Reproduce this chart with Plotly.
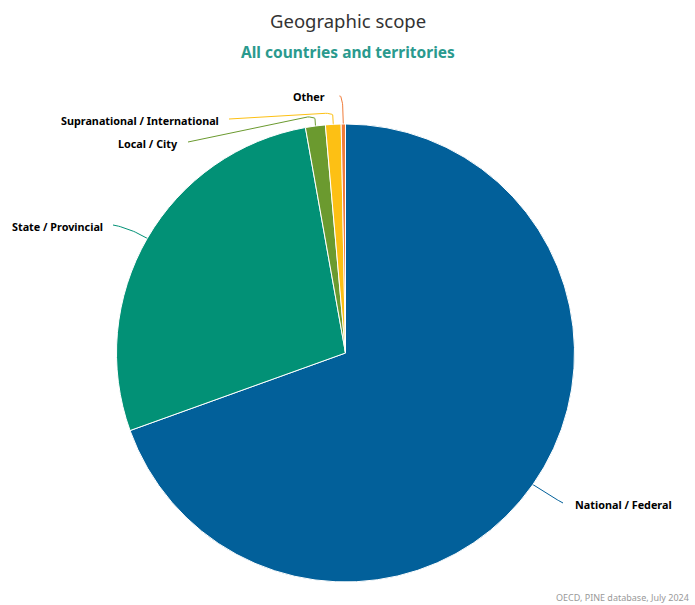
import numpy as np
import plotly.graph_objects as go

# ---- data ----
categories = ["National / Federal", "State / Provincial", "Local / City",
              "Supranational / International", "Other"]
shares = [69.5, 27.7, 1.4, 1.1, 0.3]
colors = ["#02609a", "#029176", "#6b9a2f", "#fdc014", "#f07c3a"]

W, H = 695, 605
CX, CY, R = 345.5, 353.0, 229.0
FONT = "Noto Sans"

fig = go.Figure()
fig.add_trace(go.Pie(
    labels=categories, values=shares, sort=False, direction="clockwise",
    rotation=0, textinfo="none", hoverinfo="label+percent",
    marker=dict(colors=colors, line=dict(color="white", width=1)),
    domain=dict(x=[(CX - R) / W, (CX + R) / W], y=[1 - (CY + R) / H, 1 - (CY - R) / H]),
    showlegend=False,
))

# label placement (style), connector routing waypoints relative to label
label_pos = {
    "National / Federal": dict(x=573, y=504, anchor="left", via=[(550, 496)]),
    "State / Provincial": dict(x=105, y=226, anchor="right", via=[(130, 228)]),
    "Local / City": dict(x=180, y=143, anchor="right", lift=8, via=[(300, 118)]),
    "Supranational / International": dict(x=221, y=120, anchor="right", lift=10, via=[(320, 114)]),
    "Other": dict(x=327, y=96, anchor="right", lift=0, via=[]),
}

cum = np.cumsum([0] + shares)
total = cum[-1]


def bez(p0, p1, p2, n=20):
    t = np.linspace(0, 1, n)[:, None]
    p0, p1, p2 = map(np.array, (p0, p1, p2))
    return (1 - t) ** 2 * p0 + 2 * (1 - t) * t * p1 + t ** 2 * p2


for i, cat in enumerate(categories):
    mid = (cum[i] + cum[i + 1]) / 2 / total * 2 * np.pi
    ex, ey = CX + (R - 2) * np.sin(mid), CY - (R - 2) * np.cos(mid)
    lp = label_pos[cat]
    end = (lp["x"] + (8 if lp["anchor"] == "right" else -10), lp["y"] - 1)
    pts = [(ex, ey)]
    if cat == "Other":
        seg = bez((ex, ey), (ex, lp["y"] - 2), (ex - 4, lp["y"]))
        pts = list(map(tuple, seg))
    elif "lift" in lp:
        top = (ex, ey - lp["lift"])
        pts = [(ex, ey)] + list(map(tuple, bez(top, (ex, top[1] - 3), (ex - 8, top[1] - 3), 8)))
        pts.append(end)
    else:
        seg = bez((ex, ey), lp["via"][0], end)
        pts = list(map(tuple, seg))
    xs, ys = zip(*pts)
    fig.add_trace(go.Scatter(x=xs, y=ys, mode="lines", line=dict(color=colors[i], width=1),
                             hoverinfo="skip", showlegend=False, xaxis="x", yaxis="y"))
    fig.add_annotation(x=lp["x"], y=lp["y"], xref="x", yref="y", text="<b>%s</b>" % cat,
                       showarrow=False, xanchor=lp["anchor"], yanchor="middle",
                       font=dict(family=FONT, size=10.8, color="#000000"))

fig.add_annotation(x=W / 2, y=20, xref="x", yref="y", text="Geographic scope", showarrow=False,
                   font=dict(family=FONT, size=18.5, color="#333333"), xanchor="center", yanchor="middle")
fig.add_annotation(x=W / 2, y=52, xref="x", yref="y", text="<b>All countries and territories</b>",
                   showarrow=False, font=dict(family=FONT, size=15.5, color="#2a9a8e"),
                   xanchor="center", yanchor="middle")
fig.add_annotation(x=W - 4, y=597, xref="x", yref="y", text="OECD, PINE database, July 2024",
                   showarrow=False, font=dict(family=FONT, size=9, color="#999999"),
                   xanchor="right", yanchor="middle")

fig.update_layout(
    width=W, height=H, margin=dict(l=0, r=0, t=0, b=0),
    paper_bgcolor="white", plot_bgcolor="rgba(0,0,0,0)",
    xaxis=dict(range=[0, W], visible=False, fixedrange=True, domain=[0, 1]),
    yaxis=dict(range=[H, 0], visible=False, fixedrange=True, domain=[0, 1]),
)
fig.write_html("out.html", config={"displayModeBar": False},
               post_script="document.body.style.margin='0';")
